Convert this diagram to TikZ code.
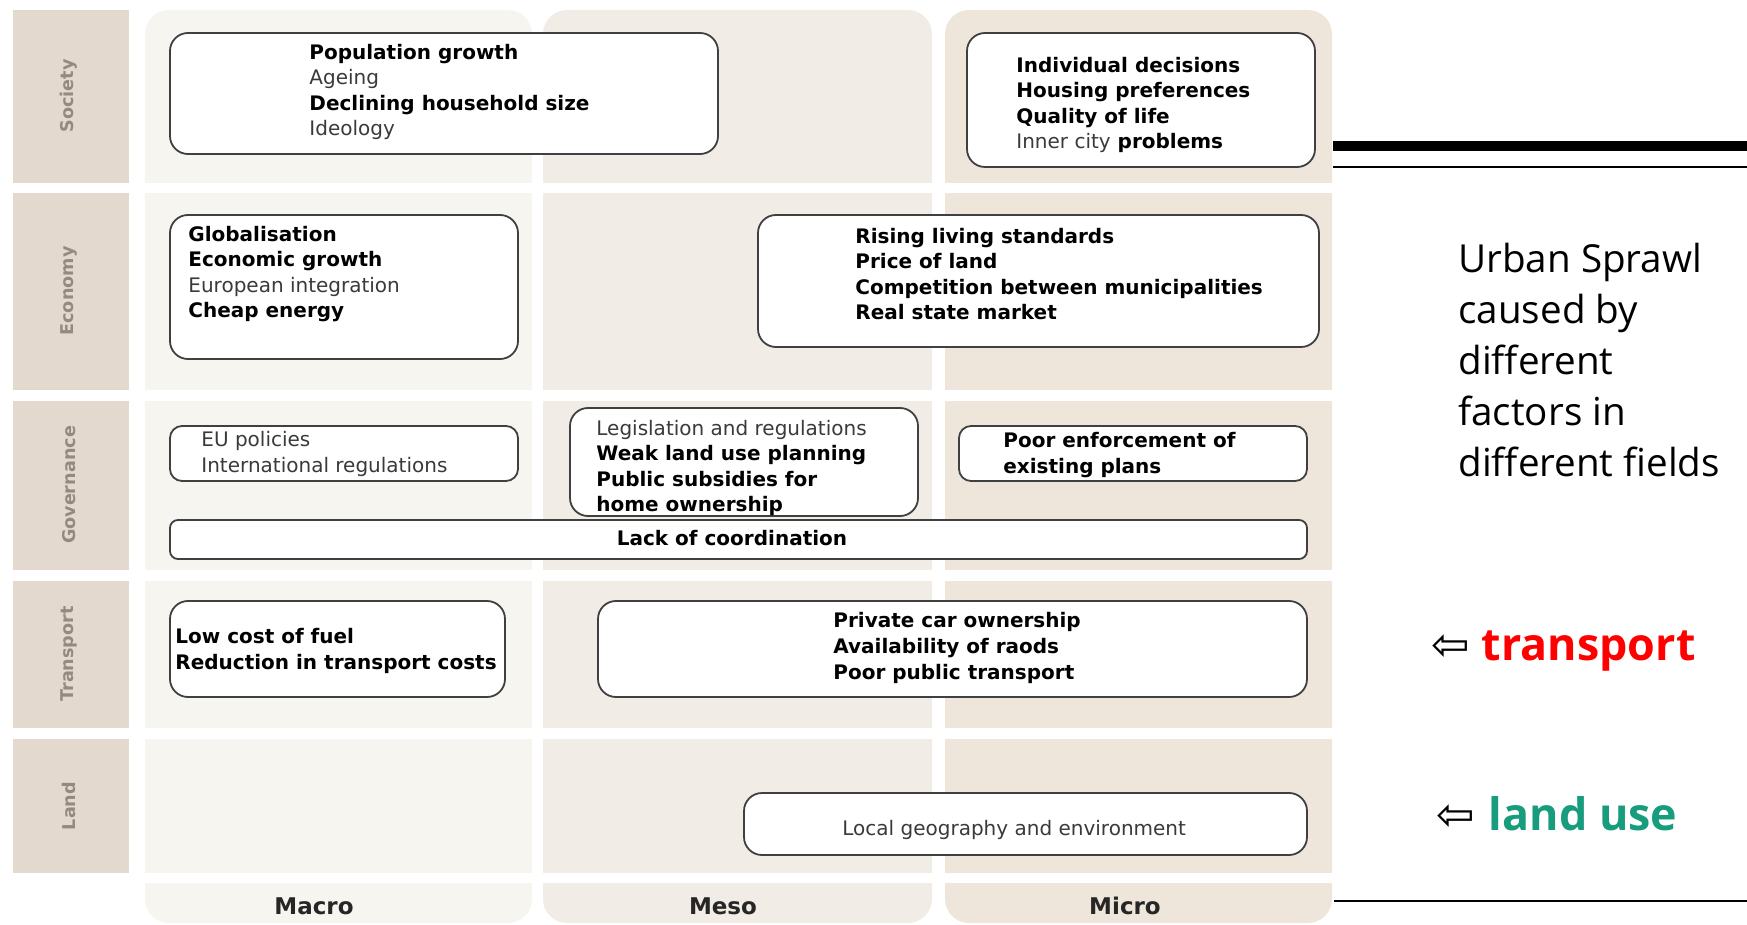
\documentclass[tikz,border=0pt]{standalone}
\usepackage{fontspec}
\setsansfont{DejaVu Sans}
\newfontfamily\slidefont{Open Sans}
\usepackage{tikz}
\definecolor{labelFill}{HTML}{E3D9CF}
\definecolor{macroFill}{HTML}{F7F5F0}
\definecolor{mesoFill}{HTML}{F1ECE5}
\definecolor{microFill}{HTML}{EEE6DB}
\definecolor{rowGray}{HTML}{968A7E}
\definecolor{liteText}{HTML}{3A3A3A}
\definecolor{landGreen}{HTML}{179C7D}
\newcommand{\lite}[1]{{\mdseries\color{liteText}#1}}
\tikzset{
  box/.style={draw=black!75, fill=white, line width=0.9pt, rounded corners=9pt},
  cause/.style={anchor=west, align=left, inner sep=0pt, font=\sffamily\bfseries\fontsize{10}{12.8}\selectfont},
  rowlabel/.style={rotate=90, text=rowGray, font=\sffamily\bfseries\fontsize{8.8}{10}\selectfont},
  scalelabel/.style={text=black!85, font=\sffamily\bfseries\fontsize{11.5}{13}\selectfont},
}

\begin{document}
\begin{tikzpicture}[x=0.5pt, y=-0.5pt]
        \useasboundingbox (0,0) rectangle (1747,925);

        % columns
        \fill[labelFill] (13, 10) rectangle (129, 873);
        \fill[macroFill, rounded corners=12pt] (145, 10) rectangle ( 532, 923);
        \fill[mesoFill,  rounded corners=12pt] (543, 10) rectangle ( 932, 923);
        \fill[microFill, rounded corners=12pt] (945, 10) rectangle (1332, 923);

        % gaps between the rows
        \fill[white] (0, 183) rectangle (1340, 193);
        \fill[white] (0, 390) rectangle (1340, 401);
        \fill[white] (0, 570) rectangle (1340, 581);
        \fill[white] (0, 728) rectangle (1340, 739);
        \fill[white] (0, 873) rectangle (1340, 883);

        \node[rowlabel] (society)    at (69,  96) {Society};
        \node[rowlabel] (economy)    at (69, 291) {Economy};
        \node[rowlabel] (governance) at (69, 485) {Governance};
        \node[rowlabel] (transportrow) at (69, 654) {Transport};
        \node[rowlabel] (land)       at (69, 806) {Land};

        \node[scalelabel] (macro) at ( 314, 906) {Macro};
        \node[scalelabel] (meso)  at ( 723, 906) {Meso};
        \node[scalelabel] (micro) at (1125, 906) {Micro};

        % society
        \draw[box] (170, 33) rectangle ( 718, 154);
        \node[cause] (socmacro) at (309, 92) {Population growth\\ \lite{Ageing}\\ Declining household size\\ \lite{Ideology}};
        \draw[box] (967, 33) rectangle (1315, 167);
        \node[cause] (socmicro) at (1016, 105) {Individual decisions\\ Housing preferences\\ Quality of life\\ \lite{Inner city} problems};

        % economy
        \draw[box] (170, 215) rectangle ( 518, 359);
        \node[cause] (ecomacro) at (188, 274) {Globalisation\\ Economic growth\\ \lite{European integration}\\ Cheap energy};
        \draw[box] (758, 215) rectangle (1319, 347);
        \node[cause] (ecomicro) at (855, 274) {Rising living standards\\ Price of land\\ Competition between municipalities\\ Real state market};

        % governance
        \draw[box, rounded corners=6pt] (170, 426) rectangle ( 518, 481);
        \node[cause] (govmacro) at (201, 454) {\lite{EU policies}\\ \lite{International regulations}};
        \draw[box] (570, 408) rectangle ( 918, 516);
        \node[cause] (govmeso) at (596, 468) {\lite{Legislation and regulations}\\ Weak land use planning\\ Public subsidies for\\ home ownership};
        \draw[box, rounded corners=6pt] (959, 426) rectangle (1307, 481);
        \node[cause] (govmicro) at (1003, 455) {Poor enforcement of\\ existing plans};
        \draw[box, rounded corners=4pt] (170, 520) rectangle (1307, 559);
        \node[cause, anchor=center] (lack) at (732, 538) {Lack of coordination};

        % transport
        \draw[box] (170, 601) rectangle ( 505, 697);
        \node[cause] (trmacro) at (175, 651) {Low cost of fuel\\ Reduction in transport costs};
        \draw[box] (598, 601) rectangle (1307, 697);
        \node[cause] (trmicro) at (833, 648) {Private car ownership\\ Availability of raods\\ Poor public transport};

        % land
        \draw[box] (744, 793) rectangle (1307, 855);
        \node[cause] (geo) at (842, 830) {\lite{Local geography and environment}};

        % slide text
        \draw[line width=5pt]    (1333, 146) -- (1747, 146);
        \draw[line width=0.75pt] (1333, 167) -- (1747, 167);
        \draw[line width=1.25pt] (1334, 901) -- (1747, 901);

        \node[anchor=west, align=left, inner sep=0pt, font=\slidefont\fontsize{19.3}{25.5}\selectfont] (sprawl) at (1458, 360)
             {Urban Sprawl\\ caused by\\ different\\ factors in\\ different fields};
        \node[anchor=west, inner sep=0pt] (transport) at (1431, 651)
             {\sffamily\fontsize{23}{25}\selectfont ⇦\hspace{6pt}{\slidefont\bfseries\fontsize{22.4}{25}\selectfont\color{red}transport}};
        \node[anchor=west, inner sep=0pt] (landuse) at (1436, 814)
             {\sffamily\fontsize{23}{25}\selectfont ⇦\hspace{7pt}{\slidefont\bfseries\fontsize{22.4}{25}\selectfont\color{landGreen}land use}};
    \end{tikzpicture}
\end{document}
